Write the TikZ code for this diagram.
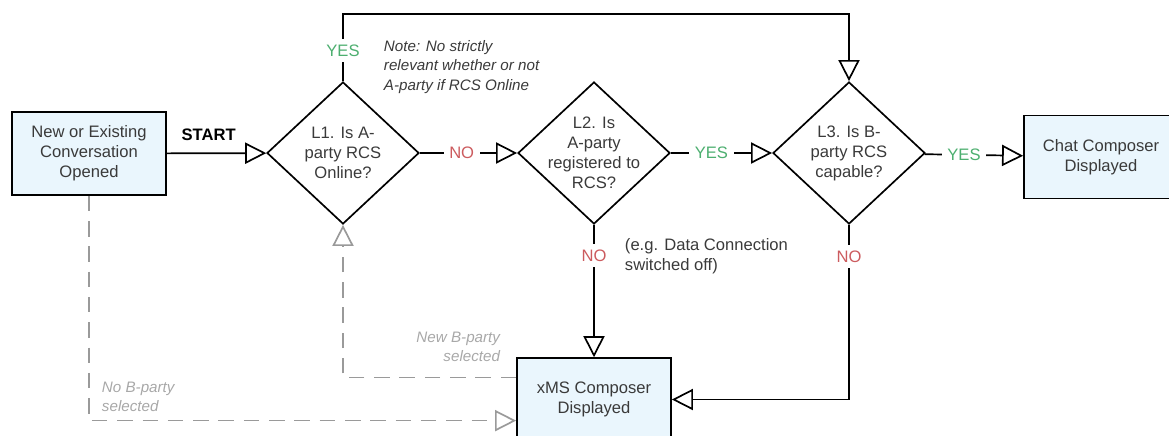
\documentclass[tikz,border=0pt]{standalone}
\usepackage{fontspec}
\setmainfont{Liberation Sans}
\usetikzlibrary{arrows.meta,calc,shapes.geometric,positioning}

\definecolor{boxblue}{HTML}{EAF6FD}
\definecolor{inkgray}{HTML}{3A3A3A}
\definecolor{yesgreen}{HTML}{4DAF70}
\definecolor{nored}{HTML}{CC5B5E}
\definecolor{dashgray}{HTML}{9A9A9A}
\definecolor{notegray}{HTML}{A8A8A8}

\begin{document}
\begin{tikzpicture}[x=0.025cm,y=-0.025cm,
  font=\fontsize{11.8}{14.2}\selectfont,
  every node/.style={text=inkgray},
  state/.style={draw=black,fill=boxblue,line width=1.2pt,minimum width=3.85cm,minimum height=2.07cm,align=center,inner sep=0pt},
  decision/.style={draw=black,diamond,line width=1.2pt,minimum width=3.8cm,minimum height=3.55cm,inner sep=0pt},
  qtext/.style={align=center},
  flow/.style={line width=1.2pt,-{Triangle[open,length=15pt,width=15pt]}},
  back/.style={dashgray,line width=1.2pt,dash pattern=on 11pt off 7pt,-{Triangle[open,length=15pt,width=15pt]}},
  yes/.style={fill=white,text=yesgreen,inner sep=4pt},
  no/.style={fill=white,text=nored,inner sep=4pt},
  aside/.style={align=left,font=\fontsize{10.8}{13.6}\selectfont\itshape}
]
  \useasboundingbox (0,0) rectangle (1169,435);
  \clip (0,0) rectangle (1169,435);

  % boxes and questions
  \node[state] (start) at (89,153.5) {New or Existing\\Conversation\\Opened};
  \node[decision] (l1) at (343,153) {};
  \node[qtext] (l1text) at (l1) {L1. Is A-\\party RCS\\Online?};
  \node[decision] (l2) at (594,153) {};
  \node[qtext] (l2text) at (l2) {L2. Is\\A-party\\registered to\\RCS?};
  \node[decision] (l3) at (849,153) {};
  \node[qtext] (l3text) at (l3) {L3. Is B-\\party RCS\\capable?};
  \node[state] (chat) at (1101,157) {Chat Composer\\Displayed};
  \node[state] (xms) at (594,399.5) {xMS Composer\\Displayed};

  \coordinate (top) at (343,14);

  % main flow
  \draw[flow] (start) -- node[pos=0.42,above=5pt,font=\fontsize{11.8}{14}\selectfont\bfseries,text=black] {START} (l1);
  \draw[flow] (l1) -- node[no,pos=0.43] {NO} (l2);
  \draw[flow] (l2) -- node[yes,pos=0.4] {YES} (l3);
  \draw[flow] (l3) -- node[yes,pos=0.4] {YES} (chat);
  \draw[flow] (l1.north) -- node[yes,pos=0.45] {YES} (top) -| (l3.north);
  \draw[flow] (l2.south) -- node[no,pos=0.23] {NO} (xms.north);
  \draw[flow] (l3.south) |- node[no,pos=0.09] {NO} (xms.east);

  % back paths
  \draw[back] ($(xms.north west)!0.24!(xms.south west)$) -| (l1.south);
  \draw[back] (start.south) |- ($(xms.north west)!0.75!(xms.south west)$);

  % notes
  \node[aside,anchor=west] (note1) at (379,67) {Note: No strictly\\relevant whether or not\\A-party if RCS Online};
  \node[align=left,anchor=west] (note2) at (620,256) {(e.g. Data Connection\\switched off)};
  \node[aside,align=right,anchor=east,text=notegray] (note3) at (505,347) {New B-party\\selected};
  \node[aside,anchor=west,text=notegray] (note4) at (97,397) {No B-party\\selected};
\end{tikzpicture}
\end{document}
